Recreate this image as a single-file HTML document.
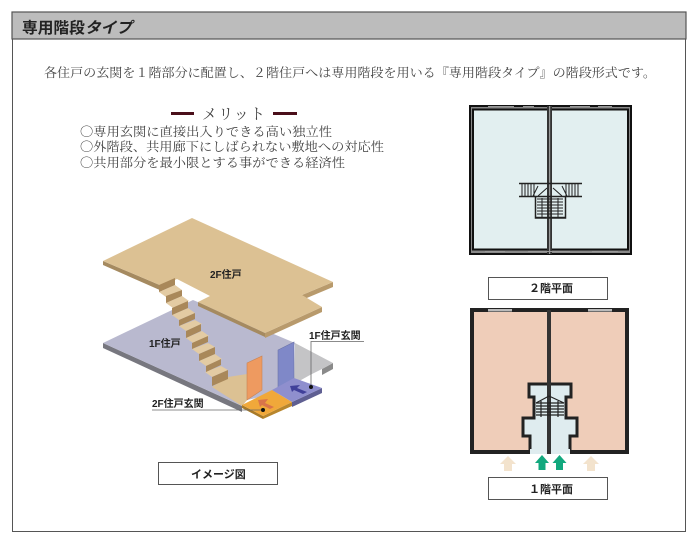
<!DOCTYPE html>
<html><head><meta charset="utf-8"><style>
html,body{margin:0;padding:0;background:#fff}
svg{display:block}
text{font-family:"Liberation Serif","Noto Serif CJK JP",serif;fill:#444}
.g{font-family:"Liberation Sans","Noto Sans CJK JP",sans-serif;fill:#222;font-weight:700}
.c{font-family:"Noto Sans CJK JP",sans-serif}
</style></head><body>
<svg width="700" height="541" viewBox="0 0 700 541" xmlns="http://www.w3.org/2000/svg">
<rect x="12.5" y="12.5" width="673" height="519" fill="#fff" stroke="#555" stroke-width="1"/>
<rect x="12" y="12" width="674" height="27" fill="#bcbcbc" stroke="#555" stroke-width="1.2"/>
<text x="22" y="33" font-size="15.5" textLength="110" lengthAdjust="spacingAndGlyphs" style="fill:#222;font-family:'Liberation Sans','Noto Sans CJK JP',sans-serif;font-weight:700">専用階段<tspan font-style="italic">タイプ</tspan></text>
<text x="44" y="77" font-size="12.7" textLength="612" lengthAdjust="spacingAndGlyphs">各住戸の玄関を１階部分に配置し、２階住戸へは専用階段を用いる『専用階段タイプ』の階段形式です。</text>
<rect x="171" y="112" width="23" height="3" fill="#4a0f1a"/><rect x="273" y="112" width="24" height="3" fill="#4a0f1a"/>
<text x="202" y="119" font-size="15" textLength="63" lengthAdjust="spacing">メリット</text>
<text x="80" y="136" font-size="12.6" textLength="252" lengthAdjust="spacingAndGlyphs"><tspan class="c">○</tspan>専用玄関に直接出入りできる高い独立性</text>
<text x="80" y="151" font-size="12.6" textLength="304" lengthAdjust="spacingAndGlyphs"><tspan class="c">○</tspan>外階段、共用廊下にしばられない敷地への対応性</text>
<text x="80" y="167" font-size="12.6" textLength="265" lengthAdjust="spacingAndGlyphs"><tspan class="c">○</tspan>共用部分を最小限とする事ができる経済性</text>

<!-- 1F slab -->
<polygon points="103,343 103,348 242,412 242,406" fill="#77777f"/>
<polygon points="333,363 333,369 322,375 322,369" fill="#8a8a8a"/>
<polygon points="103,343 193,300 295,343 278,393 247,400 242,406" fill="#b9b9cf"/>
<polygon points="295,343 333,363 322,369 310,375 294,384" fill="#c4c4c6"/>
<polygon points="212,387 228,377 247,374 247,400 242,406" fill="#dcc193"/>
<!-- doors -->
<polygon points="247,363 262,356 262,390 247,400" fill="#ee9a60" stroke="#c98454" stroke-width=".6"/>
<polygon points="278,350 294,342 294,385 278,393" fill="#7f88c8" stroke="#6c74a8" stroke-width=".6"/>
<!-- entrance -->
<polygon points="242,405 242,408 263,419 263,416" fill="#a87a28"/>
<polygon points="263,416 292,402 292,406 263,419" fill="#b8862c"/>
<polygon points="292,402 322,388 322,393 292,407" fill="#5f5f92"/>
<polygon points="242,405 272,390 292,402 263,416" fill="#f0a83a"/>
<polygon points="272,390 294,378 322,388 292,402" fill="#8f8fce"/>
<!-- arrows -->
<polygon points="258,400 268,399 265,403 274,407 270,409 262,405 260,407" fill="#d9744a"/>
<polygon points="290,386 300,385 297,388 307,392 303,394 294,390 292,392" fill="#40409a"/>
<!-- 2F slab -->
<polygon points="103,261 103,265 162,291 162,286" fill="#a58a60"/>
<polygon points="198,302 198,306 265,337 265,333" fill="#a58a60"/>
<polygon points="265,333 322,307 322,312 265,338" fill="#b89a6c"/>
<polygon points="302,295 333,282 333,287 302,300" fill="#b89a6c"/>
<polygon points="192,218 333,282 302,295 322,307 265,333 198,302 210,296 177,279 162,286 103,261" fill="#dcc193"/>
<!-- stairs -->
<g fill="#e3cba3">
<polygon points="166,297 182,290 175,285 159,292"/>
<polygon points="173,308 189,301 182,296 166,303"/>
<polygon points="179,320 195,313 188,308 172,315"/>
<polygon points="186,331 202,324 195,320 179,326"/>
<polygon points="193,343 209,336 202,331 186,338"/>
<polygon points="199,354 215,347 208,343 192,349"/>
<polygon points="206,366 222,359 215,354 199,361"/>
<polygon points="212,377 228,370 221,366 205,372"/>
</g>
<g fill="#a9885a">
<polygon points="159,285 175,278 175,285 159,292"/>
<polygon points="166,296 182,290 182,296 166,303"/>
<polygon points="172,308 188,301 188,308 172,315"/>
<polygon points="179,320 195,313 195,319 179,326"/>
<polygon points="186,331 201,324 201,331 186,338"/>
<polygon points="192,343 208,336 208,342 192,349"/>
<polygon points="199,354 215,347 215,354 199,361"/>
<polygon points="206,366 221,359 221,365 206,372"/>
<polygon points="212,377 228,370 228,379 212,386"/>
</g>
<text class="g" x="210" y="278" font-size="10">2F住戸</text>
<text class="g" x="149" y="347" font-size="10">1F住戸</text>
<text class="g" x="309" y="339" font-size="10">1F住戸玄関</text>
<text class="g" x="152" y="407" font-size="10">2F住戸玄関</text>
<polyline points="364,341.500 311,341.500 311,387" fill="none" stroke="#666" stroke-width=".8"/>
<circle cx="311" cy="387" r="2" fill="#111"/>
<polyline points="152,410 263,410" fill="none" stroke="#666" stroke-width=".8"/>
<circle cx="263" cy="410" r="2" fill="#111"/>
<rect x="158.500" y="462.500" width="119" height="22" fill="#fff" stroke="#555"/>
<text class="g" x="191" y="478" font-size="11">イメージ図</text>

<!-- 2F plan -->
<rect x="470" y="106" width="161" height="148" fill="#888" stroke="#111" stroke-width="2"/>
<rect x="473" y="109.500" width="155" height="140" fill="#e2eff0" stroke="#111" stroke-width="2"/>
<rect x="547" y="106" width="5" height="148" fill="#333"/>
<rect x="549" y="106" width="1.200" height="148" fill="#999"/>
<g stroke="#999" stroke-width="1"><path d="M488 106.500H514M523 106.500H534M570 106.500H590M598 106.500H612M485 251.500H505M528 251.500H570M592 251.500H618"/></g>
<g fill="none" stroke="#222" stroke-width="1">
<path d="M519 183.500H582M519 196.500H582" stroke-width="1.500"/>
<path d="M535.500 197V218H565.500V197M535.500 217.500H565.500" stroke-width="1.500"/>
<path d="M522 184v12M525 184v12M528 184v12M531 184v12M534 184v12M566 184v12M569 184v12M572 184v12M575 184v12M578 184v12"/>
<path d="M537 199H563M537 202H563M537 205H563M537 208H563M537 211H563M537 214H563"/>
<path d="M542 198V217M558 198V217"/>
<path d="M533 196L538 186M567 196L562 186M538 196L547 188M562 196L553 188"/>
</g>
<rect x="488.500" y="277.500" width="119" height="22" fill="#fff" stroke="#555"/>
<text class="g" x="529" y="292" font-size="11">２階平面</text>

<!-- 1F plan -->
<rect x="472" y="310" width="155" height="142" fill="#efcdb9" stroke="#222" stroke-width="4"/>
<rect x="488" y="309" width="24" height="2.500" fill="#bbb"/><rect x="588" y="309" width="24" height="2.500" fill="#bbb"/>
<polygon points="529,384 571,384 571,397 566,397 566,418 577,418 577,436 570,436 570,452 530,452 530,436 523,436 523,418 534,418 534,397 529,397" fill="#dfecef" stroke="#222" stroke-width="3"/>
<rect x="530" y="449" width="40" height="5" fill="#dfecef"/>
<rect x="547" y="310" width="4" height="144" fill="#333"/>
<g fill="none" stroke="#222" stroke-width="1.200">
<path d="M536 403H564M536 406H564M536 409H564M536 412H564M536 415H564"/>
<path d="M536 403L549 396L564 403M541 401V417M558 401V417"/>
</g>
<g fill="#f3e3cd">
<polygon points="508,456 516,464 512,464 512,471 504,471 504,464 500,464"/>
<polygon points="591,456 599,464 595,464 595,471 587,471 587,464 583,464"/>
</g>
<g fill="#12a87e">
<polygon points="542,455 549,463 545.500,463 545.500,470 538.500,470 538.500,463 535,463"/>
<polygon points="559.500,455 566.500,463 563,463 563,470 556,470 556,463 552.500,463"/>
</g>
<rect x="488.500" y="477.500" width="119" height="22" fill="#fff" stroke="#555"/>
<text class="g" x="529" y="493" font-size="11">１階平面</text>
</svg>
</body></html>
